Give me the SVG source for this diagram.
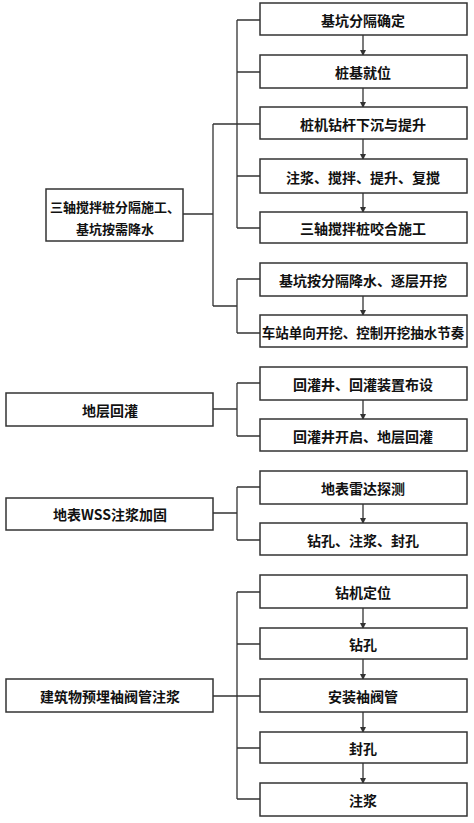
<svg xmlns="http://www.w3.org/2000/svg" width="474" height="823" viewBox="0 0 474 823">
<style>
.b{fill:#fff;stroke:#333;stroke-width:1.5}
.t{font-family:"Noto Sans CJK SC","Noto Sans",sans-serif;font-size:14px;font-weight:bold;fill:#111;text-anchor:middle;dominant-baseline:central}
.c{fill:none;stroke:#333;stroke-width:1.3}
.a{fill:none;stroke:#333;stroke-width:1.3;marker-end:url(#ah)}
</style>
<defs>
<marker id="ah" markerWidth="6" markerHeight="6" refX="5" refY="3" orient="auto" markerUnits="userSpaceOnUse">
<path d="M0,0 L6,3 L0,6 Z" fill="#333"/>
</marker>
</defs>
<rect width="474" height="823" fill="#fff"/>
<g id="connectors">
<path class="c" d="M237,20 V228 M237,20 H260 M237,72 H260 M237,176 H260 M237,228 H260"/>
<path class="c" d="M213,124 V306 M213,124 H260 M183,214 H213 M213,306 H237"/>
<path class="c" d="M237,279 V333 M237,279 H260 M237,333 H260"/>
<path class="c" d="M213,409 H237 M237,383 V436 M237,383 H260 M237,436 H260"/>
<path class="c" d="M213,513 H237 M237,487 V540 M237,487 H260 M237,540 H260"/>
<path class="c" d="M213,696 H260 M237,592 V799 M237,592 H260 M237,644 H260 M237,748 H260 M237,799 H260"/>
<path class="a" d="M363,35 V55"/>
<path class="a" d="M363,88 V107"/>
<path class="a" d="M363,139 V159"/>
<path class="a" d="M363,193 V212"/>
<path class="a" d="M363,296 V315"/>
<path class="a" d="M363,400 V419"/>
<path class="a" d="M363,504 V523"/>
<path class="a" d="M363,608 V628"/>
<path class="a" d="M363,659 V679"/>
<path class="a" d="M363,712 V732"/>
<path class="a" d="M363,763 V783"/>
</g>
<g id="n1"><rect class="b" x="260" y="3" width="207" height="32"/><text class="t" x="363" y="20">基坑分隔确定</text></g>
<g id="n2"><rect class="b" x="260" y="55" width="207" height="33"/><text class="t" x="363" y="72">桩基就位</text></g>
<g id="n3"><rect class="b" x="260" y="107" width="207" height="32"/><text class="t" x="363" y="124">桩机钻杆下沉与提升</text></g>
<g id="n4"><rect class="b" x="260" y="159" width="207" height="34"/><text class="t" x="363" y="177">注浆、搅拌、提升、复搅</text></g>
<g id="n5"><rect class="b" x="260" y="212" width="207" height="31"/><text class="t" x="363" y="228">三轴搅拌桩咬合施工</text></g>
<g id="n6"><rect class="b" x="260" y="263" width="207" height="33"/><text class="t" x="363" y="280">基坑按分隔降水、逐层开挖</text></g>
<g id="n7"><rect class="b" x="260" y="315" width="207" height="32"/><text class="t" x="363" y="332" style="font-size:13.5px">车站单向开挖、控制开挖抽水节奏</text></g>
<g id="L1"><rect class="b" x="46" y="189" width="137" height="52"/><text class="t" x="115" y="206" style="font-size:13px">三轴搅拌桩分隔施工、</text><text class="t" x="115" y="228" style="font-size:13px">基坑按需降水</text></g>
<g id="L2"><rect class="b" x="6" y="393" width="207" height="33"/><text class="t" x="110" y="410">地层回灌</text></g>
<g id="m1"><rect class="b" x="260" y="367" width="207" height="33"/><text class="t" x="363" y="384">回灌井、回灌装置布设</text></g>
<g id="m2"><rect class="b" x="260" y="419" width="207" height="32"/><text class="t" x="363" y="436">回灌井开启、地层回灌</text></g>
<g id="L3"><rect class="b" x="6" y="498" width="207" height="32"/><text class="t" x="110" y="514">地表WSS注浆加固</text></g>
<g id="w1"><rect class="b" x="260" y="471" width="207" height="33"/><text class="t" x="363" y="488">地表雷达探测</text></g>
<g id="w2"><rect class="b" x="260" y="523" width="207" height="32"/><text class="t" x="363" y="540">钻孔、注浆、封孔</text></g>
<g id="L4"><rect class="b" x="6" y="679" width="207" height="33"/><text class="t" x="110" y="696">建筑物预埋袖阀管注浆</text></g>
<g id="s1"><rect class="b" x="260" y="575" width="207" height="33"/><text class="t" x="363" y="592">钻机定位</text></g>
<g id="s2"><rect class="b" x="260" y="628" width="207" height="31"/><text class="t" x="363" y="644">钻孔</text></g>
<g id="s3"><rect class="b" x="260" y="679" width="207" height="33"/><text class="t" x="363" y="696">安装袖阀管</text></g>
<g id="s4"><rect class="b" x="260" y="732" width="207" height="31"/><text class="t" x="363" y="748">封孔</text></g>
<g id="s5"><rect class="b" x="260" y="783" width="207" height="33"/><text class="t" x="363" y="800">注浆</text></g>
</svg>
